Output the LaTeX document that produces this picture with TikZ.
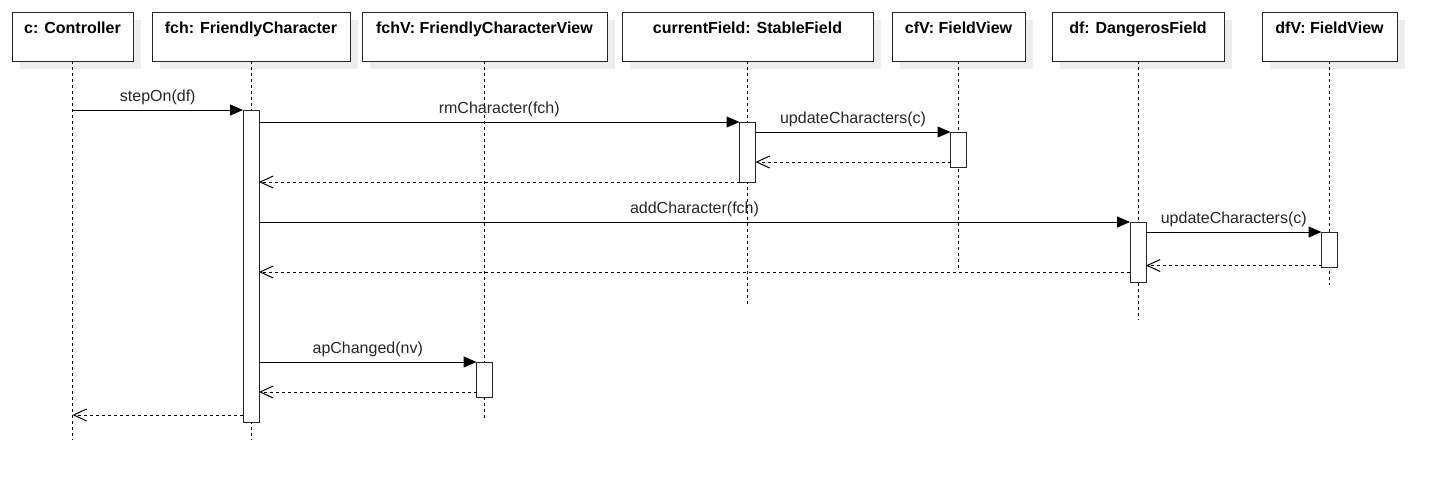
\documentclass[tikz,border=0pt]{standalone}
\usepackage{fontspec}
\setmainfont{Liberation Sans}
\usepackage{tikz}
\usetikzlibrary{positioning}
\usetikzlibrary{shapes,arrows.meta,shadows}
\tikzstyle{head} = [rectangle, draw=black!85, fill=white, line width=1pt,
minimum height=49pt, inner sep=0pt, outer sep=0pt, text height=21pt, text depth=28pt,
font=\fontsize{16}{19}\selectfont\bfseries,
drop shadow={shadow xshift=8pt, shadow yshift=-8pt, fill=black!7, opacity=1}]
\tikzstyle{act} = [rectangle, draw=black!85, fill=white, line width=1pt, minimum width=16pt, inner sep=0pt, outer sep=0pt]
\tikzstyle{life} = [draw, line width=1pt, dash pattern=on 3pt off 3pt]
\tikzstyle{call} = [draw, line width=1pt, -{Triangle[length=13pt,width=11pt]}]
\tikzstyle{ret} = [draw, line width=1pt, dash pattern=on 3pt off 3pt, -{Straight Barb[length=13pt,width=12pt]}]
\tikzstyle{msg} = [above=5pt, inner sep=0pt, text=black!85, font=\fontsize{16}{19}\selectfont]

\begin{document}
\begin{tikzpicture}[x=1pt, y=-1pt]
\useasboundingbox (0,0) rectangle (1445,490);
    % nodes
\node [head, minimum width=121pt, anchor=north west] (c) at (12,12) {c: Controller};
\node [head, minimum width=198pt, right=19pt of c] (fch) {fch: FriendlyCharacter};
\node [head, minimum width=245pt, right=12pt of fch] (fchv) {fchV: FriendlyCharacterView};
\node [head, minimum width=251pt, right=15pt of fchv] (cf) {currentField: StableField};
\node [head, minimum width=133pt, right=19pt of cf] (cfv) {cfV: FieldView};
\node [head, minimum width=172pt, right=27pt of cfv] (df) {df: DangerosField};
\node [head, minimum width=135pt, right=38pt of df] (dfv) {dfV: FieldView};

\coordinate (cE) at (c.south |- 0,440);
\coordinate (fchE) at (fch.south |- 0,440);
\coordinate (fchvE) at (fchv.south |- 0,418);
\coordinate (cfE) at (cf.south |- 0,305);
\coordinate (cfvE) at (cfv.south |- 0,270);
\coordinate (dfE) at (df.south |- 0,320);
\coordinate (dfvE) at (dfv.south |- 0,285);

%lifelines
\path [life] (c.south) -- (cE);
\path [life] (fch.south) -- (fchE);
\path [life] (fchv.south) -- (fchvE);
\path [life] (cf.south) -- (cfE);
\path [life] (cfv.south) -- (cfvE);
\path [life] (df.south) -- (dfE);
\path [life] (dfv.south) -- (dfvE);

\node [act, minimum height=312pt, below=49pt of fch] (fchA) {};
\node [act, minimum height=60pt, below=61pt of cf] (cfA) {};
\node [act, minimum height=35pt, below=71pt of cfv] (cfvA) {};
\node [act, minimum height=60pt, below=161pt of df] (dfA) {};
\node [act, minimum height=35pt, below=171pt of dfv] (dfvA) {};
\node [act, minimum height=35pt, below=301pt of fchv] (fchvA) {};

%edges
\draw [call] (c.south |- fchA.north) -- node[msg] {stepOn(df)} (fchA.north west);
\draw [call] (fchA.east |- cfA.north) -- node[msg] {rmCharacter(fch)} (cfA.north west);
\draw [call] (cfA.east |- cfvA.north) -- node[msg] {updateCharacters(c)} (cfvA.north west);
\draw [ret] ([yshift=5pt]cfvA.south west) coordinate (r1) -- (cfA.east |- r1);
\draw [ret] (cfA.south west) -- (fchA.east |- cfA.south);
\draw [call] (fchA.east |- dfA.north) -- node[msg] {addCharacter(fch)} (dfA.north west);
\draw [call] (dfA.east |- dfvA.north) -- node[msg] {updateCharacters(c)} (dfvA.north west);
\draw [ret] ([yshift=1.5pt]dfvA.south west) coordinate (r2) -- (dfA.east |- r2);
\draw [ret] ([yshift=10pt]dfA.south west) coordinate (r3) -- (fchA.east |- r3);
\draw [call] (fchA.east |- fchvA.north) -- node[msg] {apChanged(nv)} (fchvA.north west);
\draw [ret] ([yshift=5pt]fchvA.south west) coordinate (r4) -- (fchA.east |- r4);
\draw [ret] ([yshift=7pt]fchA.south west) coordinate (r5) -- (c.south |- r5);

   \end{tikzpicture}
\end{document}
